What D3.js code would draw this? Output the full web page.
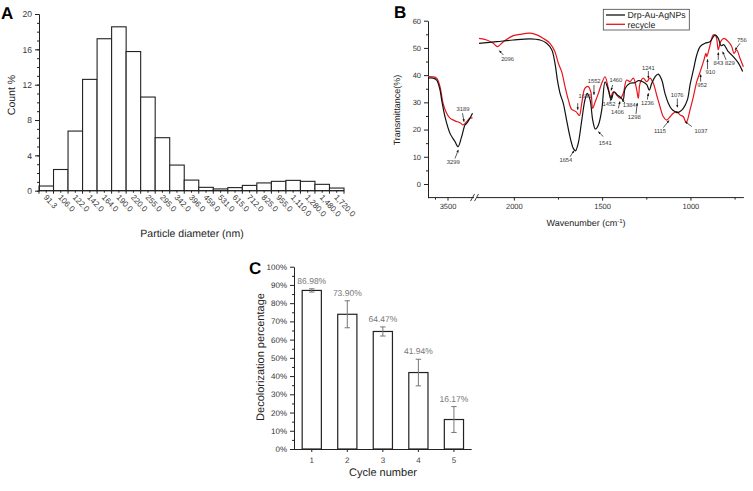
<!DOCTYPE html>
<html><head><meta charset="utf-8">
<script src="https://cdn.jsdelivr.net/npm/d3@7"></script>
<style>
body{margin:0;background:#fff}
svg{font-family:"Liberation Sans",Arial,sans-serif;text-rendering:geometricPrecision}
</style>
</head><body>
<svg id="fig" width="753" height="491"></svg>
<script>
// ---------- Panel A data ----------
const sizeLabels = ["91.3","106.0","122.0","142.0","164.0","190.0","220.0","255.0","295.0","342.0","396.0","459.0","531.0","615.0","712.0","825.0","955.0","1,110.0","1,280.0","1,480.0","1,720.0"];
const countPct = [0.53,2.4,6.75,12.6,17.2,18.55,15.75,10.6,6.0,2.9,1.2,0.38,0.2,0.35,0.6,0.88,1.06,1.17,1.06,0.72,0.3];
const countTicks = [0,4,8,12,16,20];

// ---------- Panel B data ----------
const waveLeft = [3900,3800,3727,3660,3627,3560,3460,3360,3299,3227,3160,3127,3060,3010];
const blackLeft = [38.9,38.9,38.2,34.6,30.9,24.7,18.6,15.6,13.7,17.4,21.7,22.3,24.2,26.0];
const waveLeftRed = [3900,3800,3727,3660,3600,3527,3460,3360,3260,3193,3127,3060,3010];
const redLeft = [39.5,39.4,38.9,35.8,29.7,26.0,24.2,23.2,22.5,21.7,22.9,24.2,24.2];

const waveBlack = [2200,2100,2006,1911,1854,1817,1788,1770,1756,1741,1723,1704,1685,1666,1654,1638,1618,1600,1587,1571,1556,1541,1524,1505,1486,1468,1452,1435,1417,1401,1384,1373,1345,1317,1298,1270,1250,1236,1222,1203,1185,1165,1147,1128,1109,1090,1076,1062,1043,1020,1005,986,967,948,920,892,863,845,829,815,800,788,760,731,707];
const blackRight = [51.7,52.3,52.9,53.3,52.9,51.7,49.3,44.4,38.2,33.3,29.7,23.5,17.4,13.1,12.2,15.0,23.5,30.9,33.3,30.9,23.5,20.2,21.7,27.2,37.5,34.6,30.9,33.9,32.7,32.0,31.0,35.0,37.0,37.2,38.0,37.5,36.5,34.5,37.0,39.4,40.4,38.2,33.3,29.7,27.5,26.6,26.2,26.6,27.8,30.9,36.4,41.9,47.4,50.5,51.7,52.3,54.8,53.5,50.8,51.2,49.9,48.6,46.8,44.4,41.3];

const waveRed = [2200,2156,2119,2096,2062,2006,1968,1911,1873,1836,1798,1770,1751,1732,1713,1694,1675,1651,1638,1631,1618,1600,1581,1567,1556,1543,1524,1505,1486,1468,1454,1439,1420,1401,1383,1364,1345,1326,1307,1298,1288,1270,1250,1232,1213,1194,1175,1156,1137,1118,1100,1080,1062,1043,1030,1024,1005,986,967,952,939,926,915,910,892,873,858,845,832,813,788,769,756,741,722,703];
const redRight = [53.5,52.9,51.7,50.5,52.3,54.5,55.0,55.4,54.8,53.5,51.7,48.6,44.4,41.3,35.8,30.9,27.4,26.6,25.6,25.2,29.7,35.2,35.8,33.9,27.8,30.0,33.3,37.0,39.4,35.2,32.1,33.9,32.7,31.5,33.3,38.2,37.6,38.9,34.6,31.5,37.0,38.9,37.6,38.9,37.0,32.7,28.4,24.7,23.5,24.7,26.0,26.6,25.4,24.7,22.9,22.9,27.2,32.1,37.6,40.4,43.0,45.6,48.0,46.8,50.9,54.8,54.2,49.3,52.3,53.5,52.3,50.5,48.0,49.3,46.2,43.1];

const transTicks = [0,10,20,30,40,50,60];
const waveTicksLeft = [3500];
const waveTicksRight = [2000,1500,1000];
const seriesNames = ["Drp-Au-AgNPs","recycle"];
// annotations: label, text pos (wave, %T), arrow start, arrow tip
const notes = [
 ["3189",3200,26.8,3210,26.0,3180,22.9],
 ["3299",3394,7.4,3360,9.4,3294,12.5],
 ["2096",2038,45.3,2062,47.4,2085,49.0],
 ["1654",1708,8.2,1685,10.0,1662,12.2],
 ["1541",1485,14.3,1496,17.4,1524,19.2],
 ["1631",1600,31.5,1641,29.7,1641,27.3],
 ["1552",1548,37.2,1549,36.4,1549,32.8],
 ["1460",1425,37.6,1443,36.4,1452,34.4],
 ["1452",1464,28.7,1458,30.3,1449,32.4],
 ["1406",1416,25.7,1411,27.8,1402,30.3],
 ["1384",1349,28.2,1373,29.7,1390,31.0],
 ["1298",1321,23.9,1311,25.7,1304,29.7],
 ["1236",1246,29.0,1247,31.0,1241,33.3],
 ["1241",1241,41.9,1241,41.5,1241,38.8],
 ["1076",1078,31.9,1077,31.4,1077,28.2],
 ["1115",1175,18.6,1156,20.7,1124,23.3],
 ["1037",943,18.6,995,21.1,1033,22.9],
 ["952",937,35.8,945,37.6,945,40.2],
 ["910",890,40.3,906,42.2,906,45.8],
 ["843",845,43.8,845,45.6,845,48.3],
 ["829",779,43.8,801,45.6,820,48.6],
 ["756",711,52.3,722,51.7,750,49.3]
];

// ---------- Panel C data ----------
const cycles = ["1","2","3","4","5"];
const decolor = [0.8698,0.7390,0.6447,0.4194,0.1617];
const decolorErr = [0.009,0.074,0.025,0.073,0.071];
const decolorLabels = ["86.98%","73.90%","64.47%","41.94%","16.17%"];

const svg = d3.select("#fig");
const ink = "#222";

// ================= Panel A =================
const gA = svg.append("g");
const xA = d3.scaleBand().domain(sizeLabels).range([39,344]).padding(0);
const yA = d3.scaleLinear().domain([0,20]).range([190.7,14]);
gA.selectAll("rect.bar").data(sizeLabels).join("rect")
  .attr("x", d=>xA(d)).attr("width", xA.bandwidth())
  .attr("y", (d,i)=>yA(countPct[i])).attr("height",(d,i)=>yA(0)-yA(countPct[i]))
  .attr("fill","#fff").attr("stroke",ink).attr("stroke-width",1.1);
gA.append("g").attr("transform","translate(39,0)")
  .call(d3.axisLeft(yA).tickValues(countTicks).tickSize(4).tickSizeOuter(0).tickPadding(3))
  .call(g=>g.selectAll("text").attr("font-size",8.5).attr("fill","#333"));
gA.append("g").attr("transform","translate(39,0)")
  .call(d3.axisLeft(yA).tickValues(d3.range(0,21,1)).tickSize(2).tickSizeOuter(0).tickFormat(""));
const xAxisA = gA.append("g").attr("transform",`translate(0,${yA(0)})`);
xAxisA.append("line").attr("x1",39).attr("x2",344).attr("stroke",ink);
const bw = xA.bandwidth();
sizeLabels.forEach((d,i)=>{
  xAxisA.append("line").attr("x1",xA(d)).attr("x2",xA(d)).attr("y1",0).attr("y2",3).attr("stroke",ink);
  xAxisA.append("line").attr("x1",xA(d)+bw/2).attr("x2",xA(d)+bw/2).attr("y1",0).attr("y2",2).attr("stroke",ink);
});
xAxisA.append("line").attr("x1",344).attr("x2",344).attr("y1",0).attr("y2",3).attr("stroke",ink);
xAxisA.selectAll("text.tl").data(sizeLabels).join("text")
  .attr("transform",d=>`translate(${xA(d)+bw/2-3},${7}) rotate(47)`)
  .attr("font-size",8).attr("fill","#333").text(d=>d);
gA.append("text").attr("x",192).attr("y",237).attr("text-anchor","middle").attr("font-size",10.5).attr("fill","#222").text("Particle diameter (nm)");
gA.append("text").attr("transform","translate(15,95) rotate(-90)").attr("text-anchor","middle").attr("font-size",10.5).attr("fill","#222").text("Count %");
gA.append("text").attr("x",1).attr("y",19).attr("font-size",17).attr("font-weight","bold").text("A");

// ================= Panel B =================
const gB = svg.append("g");
const yB = d3.scaleLinear().domain([-5,60]).range([197.6,20.7]);
const xL = d3.scaleLinear().domain([3900,3000]).range([428,473]);
const xR = d3.scaleLinear().domain([2200,700]).range([479,743.9]);
gB.append("g").attr("transform","translate(428,0)")
  .call(d3.axisLeft(yB).tickValues(transTicks).tickSize(4).tickSizeOuter(0).tickPadding(3))
  .call(g=>g.selectAll("text").attr("font-size",7.5).attr("fill","#333"));
gB.append("g").attr("transform","translate(428,0)")
  .call(d3.axisLeft(yB).tickValues([5,15,25,35,45,55]).tickSize(2).tickSizeOuter(0).tickFormat(""))
  .call(g=>g.select(".domain").remove());
const yb0 = yB(-5);
gB.append("line").attr("x1",428).attr("x2",474).attr("y1",yb0).attr("y2",yb0).attr("stroke",ink);
gB.append("line").attr("x1",477).attr("x2",743.9).attr("y1",yb0).attr("y2",yb0).attr("stroke",ink);
[[470.5,474.5],[474.5,478.5]].forEach(([a,b])=>{
  gB.append("line").attr("x1",a).attr("x2",b).attr("y1",yb0+3.5).attr("y2",yb0-3.5).attr("stroke",ink).attr("stroke-width",0.9);
});
function xtick(x,len,label){
  gB.append("line").attr("x1",x).attr("x2",x).attr("y1",yb0).attr("y2",yb0+len).attr("stroke",ink);
  if(label) gB.append("text").attr("x",x).attr("y",yb0+11).attr("text-anchor","middle").attr("font-size",7.5).attr("fill","#333").text(label);
}
waveTicksLeft.forEach(v=>xtick(xL(v),3,String(v)));
[3750].forEach(v=>xtick(xL(v),2,null));
waveTicksRight.forEach(v=>xtick(xR(v),3,String(v)));
[1750,1250,750].forEach(v=>xtick(xR(v),2,null));
const wl = gB.append("text").attr("x",586).attr("y",226).attr("text-anchor","middle").attr("font-size",9).attr("fill","#222");
wl.append("tspan").text("Wavenumber (cm");
wl.append("tspan").attr("dy",-3.5).attr("font-size",6).text("-1");
wl.append("tspan").attr("dy",3.5).text(")");
gB.append("text").attr("transform","translate(400,110) rotate(-90)").attr("text-anchor","middle").attr("font-size",9).attr("fill","#222").text("Transmittance(%)");
gB.append("text").attr("x",394).attr("y",18).attr("font-size",17).attr("font-weight","bold").text("B");
const curve = d3.curveCatmullRom.alpha(0.5);
function drawLine(xs,ys,sc,color){
  const pts = xs.map((w,i)=>[sc(w),yB(ys[i])]);
  gB.append("path").attr("d",d3.line().curve(curve)(pts)).attr("fill","none").attr("stroke",color).attr("stroke-width",1.2);
}
drawLine(waveLeftRed,redLeft,xL,"#e8141c");
drawLine(waveLeft,blackLeft,xL,"#111");
drawLine(waveRed,redRight,xR,"#e8141c");
drawLine(waveBlack,blackRight,xR,"#111");
svg.append("defs").append("marker").attr("id","ah").attr("viewBox","0 0 10 10").attr("refX",9).attr("refY",5)
  .attr("markerWidth",4).attr("markerHeight",4).attr("orient","auto")
  .append("path").attr("d","M0,1 L10,5 L0,9 z").attr("fill","#111");
notes.forEach(([t,tx,ty,ax,ay,bx,by])=>{
  const sc = tx>2500 ? xL : xR;
  gB.append("text").attr("x",sc(tx)).attr("y",yB(ty)).attr("text-anchor","middle").attr("font-size",5.8).attr("fill","#333").text(t);
  gB.append("line").attr("x1",sc(ax)).attr("y1",yB(ay)).attr("x2",sc(bx)).attr("y2",yB(by))
    .attr("stroke","#111").attr("stroke-width",0.7).attr("marker-end","url(#ah)");
});
const lg = gB.append("g");
lg.append("rect").attr("x",603.3).attr("y",9.3).attr("width",86).attr("height",20.7).attr("fill","#fff").attr("stroke","#444").attr("stroke-width",0.8);
["#111","#e8141c"].forEach((c,i)=>{
  lg.append("line").attr("x1",606).attr("x2",625).attr("y1",15+i*9.3).attr("y2",15+i*9.3).attr("stroke",c).attr("stroke-width",1.3);
  lg.append("text").attr("x",627.5).attr("y",18.2+i*9.3).attr("font-size",8.8).attr("fill","#222").text(seriesNames[i]);
});

// ================= Panel C =================
const gC = svg.append("g");
const xC = d3.scaleBand().domain(cycles).range([294,471.7]).paddingInner(0.46).paddingOuter(0.23);
const yC = d3.scaleLinear().domain([0,1]).range([449,266.7]);
gC.append("g").attr("transform","translate(294,0)")
  .call(d3.axisLeft(yC).tickValues(d3.range(0,1.0001,0.1)).tickFormat(d3.format(".0%")).tickSize(4).tickSizeOuter(0).tickPadding(3))
  .call(g=>g.selectAll("text").attr("font-size",8).attr("fill","#333"));
gC.append("g").attr("transform","translate(294,0)")
  .call(d3.axisLeft(yC).tickValues(d3.range(0.05,1,0.1)).tickSize(2).tickSizeOuter(0).tickFormat(""))
  .call(g=>g.select(".domain").remove());
gC.append("g").attr("transform",`translate(0,${yC(0)})`)
  .call(d3.axisBottom(xC).tickSize(3).tickSizeOuter(0).tickPadding(5))
  .call(g=>g.select(".domain").attr("d","M294,0.5H471.7"))
  .call(g=>g.selectAll("text").attr("font-size",8).attr("fill","#444"));
gC.selectAll("rect.bar").data(cycles).join("rect")
  .attr("x",d=>xC(d)).attr("width",xC.bandwidth())
  .attr("y",(d,i)=>yC(decolor[i])).attr("height",(d,i)=>yC(0)-yC(decolor[i]))
  .attr("fill","#fff").attr("stroke",ink).attr("stroke-width",1.2);
cycles.forEach((d,i)=>{
  const cx = xC(d)+xC.bandwidth()/2;
  const t = yC(decolor[i]+decolorErr[i]), b = yC(decolor[i]-decolorErr[i]);
  gC.append("line").attr("x1",cx).attr("x2",cx).attr("y1",t).attr("y2",b).attr("stroke","#777").attr("stroke-width",1);
  [t,b].forEach(yy=>gC.append("line").attr("x1",cx-2.7).attr("x2",cx+2.7).attr("y1",yy).attr("y2",yy).attr("stroke","#777").attr("stroke-width",1));
  gC.append("text").attr("x",cx).attr("y",t-5).attr("text-anchor","middle").attr("font-size",8.5).attr("fill","#777").text(decolorLabels[i]);
});
gC.append("text").attr("x",383).attr("y",476).attr("text-anchor","middle").attr("font-size",11).attr("fill","#222").text("Cycle number");
gC.append("text").attr("transform","translate(264,357) rotate(-90)").attr("text-anchor","middle").attr("font-size",11).attr("fill","#222").text("Decolorization percentage");
gC.append("text").attr("x",249).attr("y",274).attr("font-size",17).attr("font-weight","bold").text("C");

svg.selectAll(".domain").attr("stroke",ink);
svg.selectAll(".tick line").attr("stroke",ink);
</script>
</body></html>
